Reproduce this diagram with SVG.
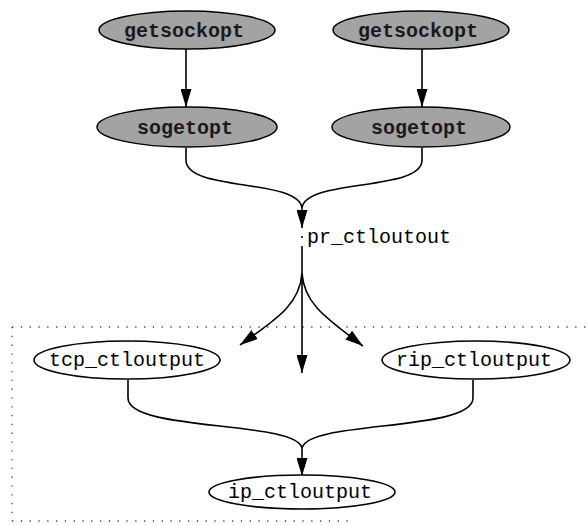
<svg xmlns="http://www.w3.org/2000/svg" width="588" height="525" viewBox="0 0 588 525">
<defs>
<style>
.gray{fill:#a3a3a3;stroke:#000;stroke-width:1.5}
.white{fill:#fff;stroke:#000;stroke-width:1.6}
.lbl{font-family:"Liberation Mono","DejaVu Sans Mono",monospace;font-size:20px;fill:#000;text-anchor:middle}
.b{font-weight:bold;fill:#1a1a1a}
.edge{fill:none;stroke:#000;stroke-width:1.6}
.dot{fill:none;stroke:#444;stroke-width:1.3;stroke-dasharray:1.3 7.5}
</style>
<marker id="ah" viewBox="0 0 10 10" refX="10" refY="5" markerWidth="10" markerHeight="10" markerUnits="userSpaceOnUse" orient="auto">
<path d="M0,0 L10,5 L0,10 z" fill="#000"/>
</marker>
<marker id="ahl" viewBox="0 0 18 11" refX="18" refY="5.5" markerWidth="18" markerHeight="11" markerUnits="userSpaceOnUse" orient="auto">
<path d="M0,0 L18,5.5 L0,11 z" fill="#000"/>
</marker>
</defs>
<g id="boundary">
<path class="dot" d="M12,327 L588,327 M12,327 L12,521 M12,521 L348,521"/>
</g>
<g id="connectors">
<path class="edge" d="M186,49 L186,107" marker-end="url(#ahl)"/>
<path class="edge" d="M422,49 L422,107" marker-end="url(#ahl)"/>
<path class="edge" d="M186,148 L186,160 C186,192 298,178 302,208"/>
<path class="edge" d="M422,148 L422,160 C422,192 306,178 302,208"/>
<path class="edge" d="M302,207 L302,228" marker-end="url(#ahl)"/>
<circle cx="302" cy="237" r="1" fill="#000"/>
<path class="edge" d="M302,246 L302,373" marker-end="url(#ahl)"/>
<path class="edge" d="M302,273 C300,305 275,320 240,345" marker-end="url(#ahl)"/>
<path class="edge" d="M302,273 C304,305 329,320 363,346" marker-end="url(#ahl)"/>
<path class="edge" d="M128,380 L128,398 C128,432 296,420 302,448"/>
<path class="edge" d="M473,380 L473,398 C473,432 308,420 302,448"/>
<path class="edge" d="M302,446 L302,476" marker-end="url(#ahl)"/>
</g>
<g id="getsockopt1">
<ellipse class="gray" cx="187" cy="30" rx="88" ry="19"/>
<text class="lbl b" x="184" y="37">getsockopt</text>
</g>
<g id="getsockopt2">
<ellipse class="gray" cx="421" cy="30" rx="88" ry="19"/>
<text class="lbl b" x="418" y="37">getsockopt</text>
</g>
<g id="sogetopt1">
<ellipse class="gray" cx="187" cy="127" rx="90" ry="20"/>
<text class="lbl b" x="185" y="134">sogetopt</text>
</g>
<g id="sogetopt2">
<ellipse class="gray" cx="421" cy="127" rx="89" ry="20"/>
<text class="lbl b" x="419" y="134">sogetopt</text>
</g>
<g id="pr_ctloutout">
<text class="lbl" x="307" y="243" style="text-anchor:start">pr_ctloutout</text>
</g>
<g id="tcp_ctloutput">
<ellipse class="white" cx="127" cy="360" rx="93" ry="19"/>
<text class="lbl" x="127" y="366">tcp_ctloutput</text>
</g>
<g id="rip_ctloutput">
<ellipse class="white" cx="476" cy="360" rx="94" ry="19"/>
<text class="lbl" x="474" y="366">rip_ctloutput</text>
</g>
<g id="ip_ctloutput">
<ellipse class="white" cx="302" cy="492" rx="93" ry="17"/>
<text class="lbl" x="300" y="498">ip_ctloutput</text>
</g>
</svg>
